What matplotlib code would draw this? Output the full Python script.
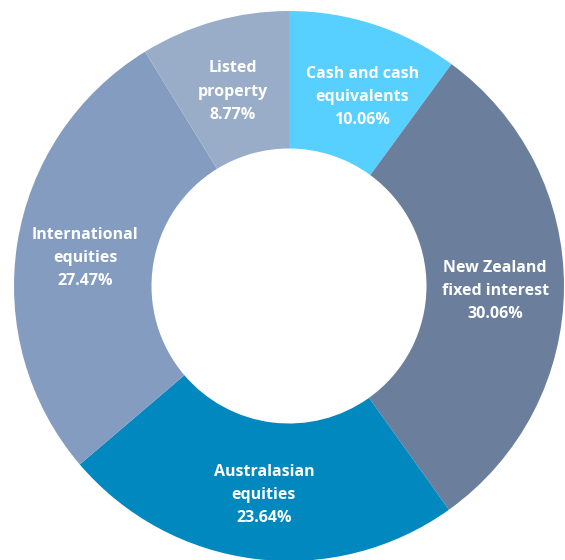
import matplotlib.pyplot as plt
import numpy as np

labels = ["Cash and cash\nequivalents", "New Zealand\nfixed interest", "Australasian\nequities",
          "International\nequities", "Listed\nproperty"]
values = [10.06, 30.06, 23.64, 27.47, 8.77]
colors = ["#57cfff", "#6b7f9c", "#0088bf", "#839cc0", "#9aadc8"]

# small nudges (pixels, y down) for labels that are not exactly at the ring middle
nudge = {0: (9, 3)}

W, H = 565, 560
fig = plt.figure(figsize=(W / 100, H / 100), dpi=100)
ax = fig.add_axes([0, 0, 1, 1])

cx, cy = 289, H - 286
R = 275
ring = 0.5

wedges, _ = ax.pie(values, colors=colors, startangle=90, counterclock=False,
                   radius=R, center=(cx, cy), frame=True,
                   wedgeprops=dict(width=R * ring, linewidth=0))
ax.set_xlim(0, W)
ax.set_ylim(0, H)
ax.set_aspect("equal")
ax.axis("off")

rmid = R * (1 - ring / 2)
for i, (w, lab, v) in enumerate(zip(wedges, labels, values)):
    ang = np.deg2rad((w.theta1 + w.theta2) / 2)
    x = cx + rmid * np.cos(ang)
    y = cy + rmid * np.sin(ang) - 4  # va=center counts the descent, push down a bit
    dx, dy = nudge.get(i, (0, 0))
    ax.text(x + dx, y - dy, f"{lab}\n{v:.2f}%", ha="center", va="center",
            color="white", fontsize=11.5, fontweight="bold",
            family=["Open Sans", "DejaVu Sans"], linespacing=1.6)

fig.savefig("out.png", dpi=100)
